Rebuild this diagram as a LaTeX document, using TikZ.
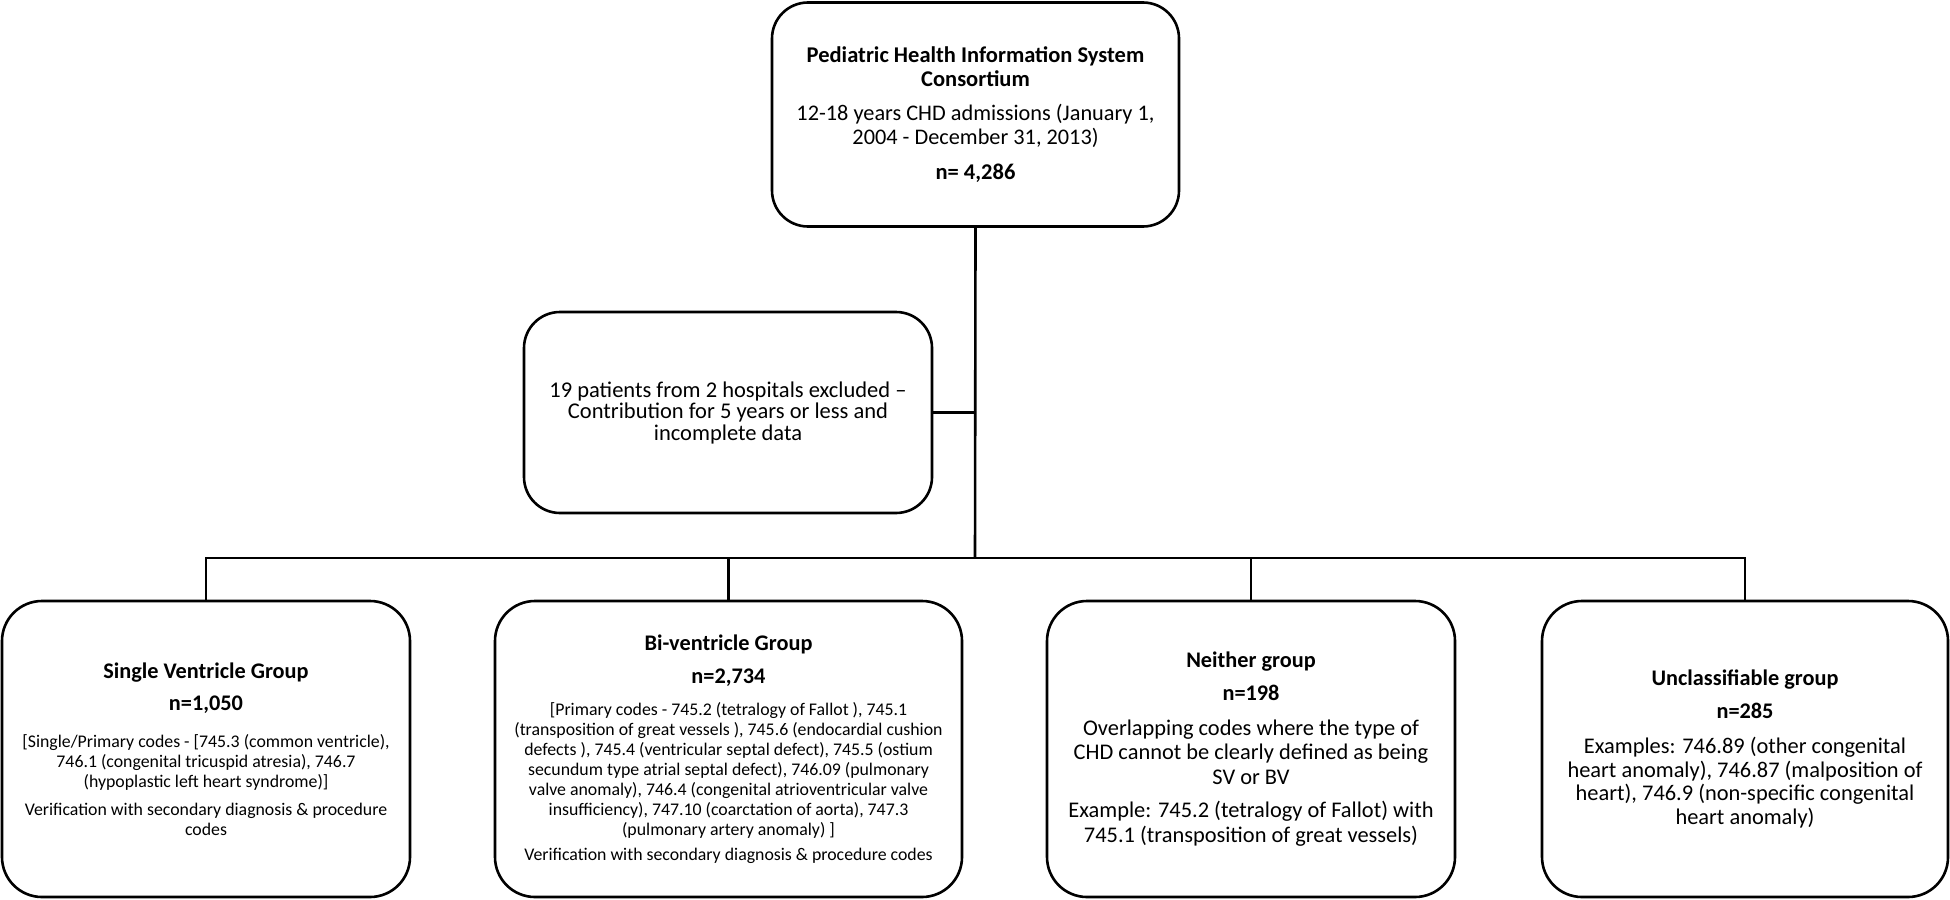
\documentclass[tikz,border=0pt]{standalone}
\usepackage{fontspec}
\setmainfont{Carlito}
\newcommand\hdT{\fontsize{22.5}{24}\selectfont\bfseries}
\newcommand\hdB{\fontsize{22.3}{24}\selectfont\bfseries}
\newcommand\fs[2]{\fontsize{#1}{#2}\selectfont\lineskiplimit=-100pt\lineskip=0pt}
\begin{document}
\begin{tikzpicture}[x=1pt,y=-1pt,
  box/.style={draw, line width=2.6pt, rounded corners=36pt, align=center, inner sep=0pt},
  conn/.style={line width=2.6pt}]
\useasboundingbox (0,0) rectangle (1950,899);

\node[box, minimum width=407pt, minimum height=224pt, font=\fs{22.3}{24.5}] (top) at (975.5,114.5)
 {\hdT Pediatric Health Information System\\
  \hdT Consortium\\[9pt]
  12-18 years CHD admissions (January 1,\\
  2004 - December 31, 2013)\\[10pt]
  \hdT n= 4,286};

\node[box, minimum width=408pt, minimum height=201pt, font=\fs{22.5}{21.5}] (excl) at (728,412.5)
 {19 patients from 2 hospitals excluded --\\
  Contribution for 5 years or less and\\
  incomplete data};

\node[box, rounded corners=40pt, minimum width=408pt, minimum height=296pt, font=\fs{17.8}{20}] (sv) at (206,749)
 {\hdB Single Ventricle Group\\[12pt]
  \hdB n=1,050\\[17pt]
  {[}Single/Primary codes - [745.3 (common ventricle),\\
  746.1 (congenital tricuspid atresia), 746.7\\
  (hypoplastic left heart syndrome)]\\[8pt]
  Verification with secondary diagnosis \& procedure\\
  codes};

\node[box, rounded corners=40pt, minimum width=467pt, minimum height=296pt, font=\fs{17.8}{20}] (bv) at (728.5,749)
 {\hdB Bi-ventricle Group\\[13pt]
  \hdB n=2,734\\[12pt]
  {[}Primary codes - 745.2 (tetralogy of Fallot ), 745.1\\
  (transposition of great vessels ), 745.6 (endocardial cushion\\
  defects ), 745.4 (ventricular septal defect), 745.5 (ostium\\
  secundum type atrial septal defect), 746.09 (pulmonary\\
  valve anomaly), 746.4 (congenital atrioventricular valve\\
  insufficiency), 747.10 (coarctation of aorta), 747.3\\
  (pulmonary artery anomaly) ]\\[5pt]
  Verification with secondary diagnosis \& procedure codes};

\node[box, rounded corners=40pt, minimum width=408pt, minimum height=296pt, font=\fs{22.4}{24.5}] (ng) at (1251,749)
 {\hdB Neither group\\[8.5pt]
  \hdB n=198\\[10.5pt]
  Overlapping codes where the type of\\
  CHD cannot be clearly defined as being\\
  SV or BV\\[9pt]
  Example: 745.2 (tetralogy of Fallot) with\\
  745.1 (transposition of great vessels)};

\node[box, rounded corners=40pt, minimum width=406pt, minimum height=296pt, font=\fs{22.4}{23.5}] (ug) at (1745,749)
 {\hdB Unclassifiable group\\[9.5pt]
  \hdB n=285\\[11.5pt]
  Examples: 746.89 (other congenital\\
  heart anomaly), 746.87 (malposition of\\
  heart), 746.9 (non-specific congenital\\
  heart anomaly)};

\coordinate (bus) at (975,558);
\draw[conn] (top.south) -- (bus);
\draw[conn] (excl.east) -- (excl.east -| top.south);
\draw[conn] (sv.north) -- (sv.north |- bus) -- (ug.north |- bus) -- (ug.north);
\draw[conn] (bv.north) -- (bv.north |- bus);
\draw[conn] (ng.north) -- (ng.north |- bus);
\end{tikzpicture}
\end{document}
